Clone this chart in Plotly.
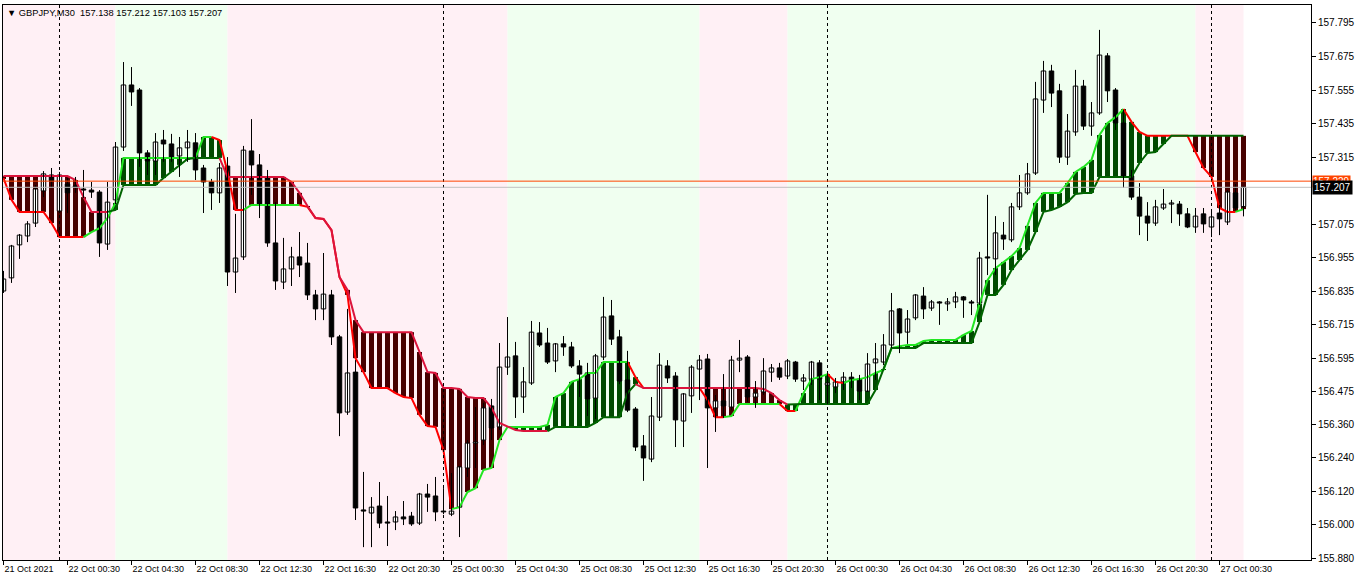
import plotly.graph_objects as go

symbol_caption = "\u25bc GBPJPY,M30  157.138 157.212 157.103 157.207"

open_prices = [
    156.836, 156.883, 157.001, 157.033, 157.079, 157.194, 157.251, 157.122, 157.219, 157.212,
    157.201, 157.197, 157.190, 157.004, 157.162, 157.351, 157.573, 157.555, 157.330, 157.301,
    157.376, 157.362, 157.319, 157.348, 157.366, 157.276, 157.226, 157.187, 157.283, 156.904,
    156.958, 157.337, 157.287, 157.244, 157.008, 156.868, 156.915, 156.958, 156.936, 156.822,
    156.772, 156.822, 156.672, 156.403, 156.546, 156.053, 156.042, 156.067, 156.010, 156.010,
    156.028, 156.031, 156.006, 156.110, 156.103, 156.049, 156.038, 156.063, 156.203, 156.292,
    156.303, 156.425, 156.350, 156.564, 156.604, 156.457, 156.507, 156.686, 156.650, 156.586,
    156.647, 156.636, 156.568, 156.543, 156.453, 156.600, 156.747, 156.672, 156.518, 156.414,
    156.282, 156.235, 156.385, 156.568, 156.532, 156.371, 156.461, 156.557, 156.593, 156.418,
    156.443, 156.421, 156.589, 156.600, 156.457, 156.475, 156.546, 156.561, 156.532, 156.582,
    156.514, 156.521, 156.579, 156.500, 156.493, 156.511, 156.528, 156.521, 156.478, 156.579,
    156.582, 156.643, 156.772, 156.689, 156.740, 156.818, 156.775, 156.797, 156.790, 156.797,
    156.815, 156.797, 156.793, 156.958, 156.951, 157.036, 157.019, 157.137, 157.187, 157.258,
    157.519, 157.623, 157.552, 157.315, 157.405, 157.569, 157.426, 157.473, 157.677, 157.555,
    157.437, 157.247, 157.172, 157.104, 157.079, 157.133, 157.147, 157.147, 157.112, 157.065,
    157.112, 157.065, 157.115, 157.083, 157.187, 157.138,
]
high_prices = [
    156.908, 157.001, 157.040, 157.086, 157.215, 157.265, 157.276, 157.262, 157.240, 157.244,
    157.269, 157.226, 157.197, 157.226, 157.369, 157.655, 157.637, 157.562, 157.340, 157.401,
    157.412, 157.398, 157.387, 157.412, 157.401, 157.287, 157.237, 157.294, 157.315, 157.112,
    157.355, 157.451, 157.326, 157.269, 157.154, 157.026, 156.994, 157.047, 157.008, 156.840,
    156.972, 156.840, 156.679, 156.772, 156.589, 156.189, 156.099, 156.153, 156.103, 156.049,
    156.085, 156.046, 156.114, 156.146, 156.171, 156.131, 156.185, 156.210, 156.303, 156.421,
    156.436, 156.450, 156.650, 156.743, 156.654, 156.564, 156.729, 156.725, 156.704, 156.650,
    156.675, 156.654, 156.589, 156.579, 156.611, 156.815, 156.804, 156.697, 156.622, 156.421,
    156.321, 156.457, 156.614, 156.589, 156.546, 156.471, 156.571, 156.607, 156.611, 156.464,
    156.539, 156.604, 156.661, 156.607, 156.514, 156.596, 156.575, 156.579, 156.593, 156.586,
    156.539, 156.586, 156.589, 156.543, 156.525, 156.546, 156.546, 156.536, 156.614, 156.650,
    156.682, 156.829, 156.775, 156.768, 156.825, 156.850, 156.804, 156.800, 156.811, 156.833,
    156.818, 156.804, 156.976, 157.180, 157.104, 157.083, 157.151, 157.251, 157.294, 157.584,
    157.659, 157.645, 157.577, 157.469, 157.627, 157.591, 157.512, 157.770, 157.687, 157.562,
    157.484, 157.269, 157.222, 157.154, 157.162, 157.201, 157.162, 157.158, 157.133, 157.133,
    157.133, 157.122, 157.144, 157.197, 157.219, 157.212,
]
low_prices = [
    156.829, 156.865, 156.951, 157.011, 157.065, 157.172, 157.205, 157.115, 157.115, 157.187,
    157.169, 157.169, 156.958, 156.983, 157.147, 157.337, 157.498, 157.280, 157.251, 157.251,
    157.298, 157.298, 157.244, 157.298, 157.233, 157.115, 157.126, 157.151, 156.854, 156.829,
    156.947, 157.180, 157.097, 156.994, 156.840, 156.843, 156.854, 156.886, 156.804, 156.732,
    156.732, 156.643, 156.317, 156.393, 156.017, 155.920, 155.920, 155.988, 155.924, 155.981,
    155.999, 155.996, 155.999, 156.046, 156.013, 156.038, 156.031, 155.956, 156.171, 156.203,
    156.285, 156.303, 156.339, 156.536, 156.382, 156.400, 156.500, 156.636, 156.575, 156.546,
    156.604, 156.561, 156.457, 156.389, 156.378, 156.589, 156.643, 156.503, 156.403, 156.264,
    156.157, 156.224, 156.371, 156.507, 156.278, 156.278, 156.400, 156.446, 156.203, 156.332,
    156.382, 156.410, 156.546, 156.439, 156.418, 156.464, 156.511, 156.518, 156.521, 156.511,
    156.482, 156.500, 156.446, 156.439, 156.471, 156.482, 156.489, 156.446, 156.475, 156.518,
    156.571, 156.632, 156.614, 156.647, 156.732, 156.736, 156.765, 156.715, 156.765, 156.775,
    156.740, 156.750, 156.786, 156.893, 156.893, 156.983, 157.011, 157.126, 157.180, 157.251,
    157.473, 157.494, 157.294, 157.287, 157.391, 157.412, 157.391, 157.466, 157.512, 157.412,
    157.205, 157.162, 157.036, 157.015, 157.069, 157.126, 157.079, 157.069, 157.061, 157.044,
    157.044, 157.029, 157.036, 157.072, 157.126, 157.103,
]
close_prices = [
    156.879, 156.997, 157.036, 157.076, 157.201, 157.255, 157.230, 157.251, 157.187, 157.208,
    157.197, 157.190, 157.008, 157.154, 157.351, 157.573, 157.548, 157.330, 157.301, 157.369,
    157.362, 157.315, 157.348, 157.369, 157.269, 157.226, 157.187, 157.276, 156.904, 156.954,
    157.340, 157.287, 157.144, 157.008, 156.872, 156.915, 156.958, 156.929, 156.822, 156.772,
    156.825, 156.672, 156.400, 156.543, 156.060, 156.049, 156.063, 156.006, 156.006, 156.028,
    156.021, 156.003, 156.110, 156.099, 156.046, 156.046, 156.049, 156.207, 156.292, 156.296,
    156.418, 156.346, 156.564, 156.600, 156.457, 156.511, 156.689, 156.643, 156.582, 156.647,
    156.636, 156.568, 156.539, 156.450, 156.604, 156.743, 156.664, 156.514, 156.410, 156.278,
    156.239, 156.389, 156.571, 156.525, 156.375, 156.468, 156.564, 156.589, 156.418, 156.443,
    156.425, 156.589, 156.596, 156.457, 156.471, 156.550, 156.561, 156.528, 156.586, 156.521,
    156.525, 156.582, 156.521, 156.507, 156.511, 156.528, 156.518, 156.478, 156.575, 156.593,
    156.643, 156.765, 156.686, 156.736, 156.822, 156.772, 156.797, 156.793, 156.797, 156.815,
    156.804, 156.793, 156.954, 156.954, 157.044, 157.022, 157.137, 157.187, 157.255, 157.523,
    157.623, 157.544, 157.315, 157.408, 157.569, 157.426, 157.473, 157.680, 157.552, 157.437,
    157.247, 157.172, 157.104, 157.079, 157.137, 157.147, 157.151, 157.112, 157.065, 157.104,
    157.076, 157.101, 157.094, 157.190, 157.133, 157.207,
]

# indicator: fast (bright) line and slow (dark) line
fast_line = [
    157.240, 157.162, 157.119, 157.119, 157.119, 157.119, 157.079, 157.029, 157.029, 157.029,
    157.029, 157.047, 157.061, 157.097, 157.151, 157.312, 157.312, 157.312, 157.312, 157.312,
    157.312, 157.312, 157.312, 157.312, 157.312, 157.387, 157.387, 157.376, 157.262, 157.126,
    157.126, 157.144, 157.144, 157.144, 157.144, 157.144, 157.144, 157.144, 157.137, 157.097,
    157.094, 157.054, 156.886, 156.822, 156.596, 156.546, 156.489, 156.489, 156.489, 156.471,
    156.457, 156.453, 156.393, 156.353, 156.350, 156.267, 156.056, 156.063, 156.117, 156.131,
    156.196, 156.203, 156.303, 156.350, 156.350, 156.350, 156.350, 156.350, 156.357, 156.457,
    156.471, 156.511, 156.521, 156.543, 156.543, 156.582, 156.582, 156.582, 156.582, 156.528,
    156.489, 156.489, 156.489, 156.489, 156.489, 156.489, 156.489, 156.489, 156.446, 156.385,
    156.385, 156.389, 156.432, 156.432, 156.432, 156.432, 156.432, 156.432, 156.407, 156.407,
    156.471, 156.521, 156.528, 156.539, 156.511, 156.507, 156.518, 156.521, 156.528, 156.543,
    156.554, 156.632, 156.639, 156.643, 156.643, 156.657, 156.661, 156.661, 156.661, 156.661,
    156.679, 156.693, 156.790, 156.875, 156.918, 156.940, 156.961, 156.990, 157.069, 157.151,
    157.187, 157.187, 157.187, 157.222, 157.262, 157.280, 157.305, 157.394, 157.437, 157.458,
    157.487, 157.441, 157.405, 157.391, 157.391, 157.391, 157.391, 157.391, 157.391, 157.333,
    157.276, 157.244, 157.133, 157.119, 157.119, 157.129,
]
slow_line = [
    157.247, 157.247, 157.247, 157.247, 157.247, 157.247, 157.247, 157.247, 157.247, 157.233,
    157.172, 157.119, 157.119, 157.119, 157.126, 157.215, 157.215, 157.215, 157.215, 157.215,
    157.240, 157.262, 157.287, 157.308, 157.312, 157.312, 157.312, 157.312, 157.244, 157.244,
    157.244, 157.244, 157.244, 157.244, 157.244, 157.244, 157.226, 157.187, 157.140, 157.097,
    157.094, 157.054, 156.886, 156.840, 156.732, 156.689, 156.689, 156.689, 156.689, 156.689,
    156.689, 156.689, 156.618, 156.546, 156.543, 156.489, 156.489, 156.486, 156.457, 156.453,
    156.453, 156.418, 156.364, 156.350, 156.339, 156.335, 156.335, 156.335, 156.335, 156.350,
    156.350, 156.350, 156.350, 156.350, 156.364, 156.385, 156.385, 156.385, 156.471, 156.503,
    156.489, 156.489, 156.489, 156.489, 156.489, 156.489, 156.489, 156.489, 156.489, 156.489,
    156.489, 156.489, 156.489, 156.489, 156.489, 156.486, 156.471, 156.446, 156.430, 156.432,
    156.432, 156.432, 156.432, 156.432, 156.432, 156.432, 156.432, 156.432, 156.432, 156.482,
    156.557, 156.632, 156.632, 156.632, 156.632, 156.650, 156.650, 156.650, 156.650, 156.650,
    156.650, 156.650, 156.725, 156.822, 156.822, 156.858, 156.911, 156.947, 156.983, 157.047,
    157.119, 157.126, 157.137, 157.154, 157.183, 157.187, 157.187, 157.244, 157.244, 157.244,
    157.244, 157.244, 157.294, 157.330, 157.333, 157.362, 157.391, 157.391, 157.391, 157.391,
    157.391, 157.391, 157.391, 157.391, 157.391, 157.391,
]

# trend zones (start bar, end bar, trend)
zones = [(0, 14, "bear"), (14, 28, "bull"), (28, 63, "bear"), (63, 87, "bull"),
         (87, 98, "bear"), (98, 149, "bull"), (149, 155, "bear")]

x_tick_bars = [0, 8, 16, 24, 32, 40, 48, 56, 64, 72, 80, 88, 96, 104, 112, 120, 128, 136, 144, 152]
x_tick_labels = ["21 Oct 2021", "22 Oct 00:30", "22 Oct 04:30", "22 Oct 08:30", "22 Oct 12:30",
                 "22 Oct 16:30", "22 Oct 20:30", "25 Oct 00:30", "25 Oct 04:30", "25 Oct 08:30",
                 "25 Oct 12:30", "25 Oct 16:30", "25 Oct 20:30", "26 Oct 00:30", "26 Oct 04:30",
                 "26 Oct 08:30", "26 Oct 12:30", "26 Oct 16:30", "26 Oct 20:30", "27 Oct 00:30"]
y_tick_values = [157.795, 157.675, 157.555, 157.435, 157.315, 157.075, 156.955, 156.835,
                 156.715, 156.595, 156.475, 156.360, 156.240, 156.120, 156.000, 155.880]
day_separator_bars = [7, 55, 103, 151]
ask_price = 157.229
bid_price = 157.207

X_MIN, X_MAX = -0.0625, 163.4375
Y_MIN, Y_MAX = 155.874, 157.859
FONT = "Liberation Sans, Arial, sans-serif"

n = min(len(open_prices), len(high_prices), len(low_prices), len(close_prices),
        len(fast_line), len(slow_line))
bars = list(range(n))

ZONE_BG = {"bear": "#FFF0F5", "bull": "#F0FFF0"}
STRIPE = {"bear": "#480000", "bull": "#004A00"}

fig = go.Figure()

for a, b, kind in zones:
    fig.add_shape(type="rect", xref="x", yref="paper", x0=(a if a > 0 else X_MIN), x1=b,
                  y0=0, y1=1, fillcolor=ZONE_BG[kind], line_width=0, layer="below")


def zone_of(i):
    for a, b, kind in zones:
        if a <= i < b:
            return kind
    return zones[-1][2]


# cloud stripes
fig.add_trace(go.Bar(
    x=bars,
    base=[min(fast_line[i], slow_line[i]) for i in bars],
    y=[abs(fast_line[i] - slow_line[i]) for i in bars],
    width=0.62,
    marker=dict(color=[STRIPE[zone_of(i)] for i in bars], line=dict(width=0)),
    hoverinfo="skip", showlegend=False,
))


def slope_colors(vals, up, down, init):
    cols = [init]
    state = init
    for i in range(1, len(vals)):
        if vals[i] > vals[i - 1] + 1e-9:
            state = up
        elif vals[i] < vals[i - 1] - 1e-9:
            state = down
        cols.append(state)
    return cols


def add_colored_line(vals, cols, width):
    start = 1
    for i in range(2, n + 1):
        if i == n or cols[i] != cols[start]:
            xs = list(range(start - 1, i))
            fig.add_trace(go.Scatter(
                x=xs, y=vals[start - 1:i], mode="lines",
                line=dict(color=cols[start], width=width),
                hoverinfo="skip", showlegend=False))
            start = i


add_colored_line(fast_line[:n], slope_colors(fast_line[:n], "#22E622", "#FF0000", "#FF0000"), 2)
add_colored_line(slow_line[:n], slope_colors(slow_line[:n], "#006400", "#DC143C", "#DC143C"), 2)

# candles: wicks then bodies
wx, wy = [], []
for i in bars:
    wx += [i, i, None]
    wy += [low_prices[i], high_prices[i], None]
fig.add_trace(go.Scatter(x=wx, y=wy, mode="lines", line=dict(color="black", width=1),
                         hoverinfo="skip", showlegend=False))

fig.add_trace(go.Bar(
    x=bars,
    base=[min(open_prices[i], close_prices[i]) for i in bars],
    y=[max(abs(close_prices[i] - open_prices[i]), 0.0004) for i in bars],
    width=0.56,
    marker=dict(color=["white" if close_prices[i] >= open_prices[i] else "black" for i in bars],
                line=dict(color="black", width=1)),
    hoverinfo="skip", showlegend=False,
))

for d in day_separator_bars:
    fig.add_shape(type="line", xref="x", yref="paper", x0=d, x1=d, y0=0, y1=1,
                  line=dict(color="black", width=1, dash="3px,3px"))

fig.add_shape(type="line", xref="paper", yref="y", x0=0, x1=1, y0=ask_price, y1=ask_price,
              line=dict(color="#FF4500", width=1))
fig.add_shape(type="line", xref="paper", yref="y", x0=0, x1=1, y0=bid_price, y1=bid_price,
              line=dict(color="#C0C0C0", width=1))

fig.add_annotation(xref="paper", yref="y", x=1, y=ask_price, xanchor="left", yanchor="middle",
                   xshift=1, text=f"{ask_price:.3f}", showarrow=False, bgcolor="#FF4500",
                   font=dict(family=FONT, size=10, color="white"), borderpad=0)
fig.add_annotation(xref="paper", yref="y", x=1, y=bid_price, xanchor="left", yanchor="middle",
                   xshift=1, text=f"{bid_price:.3f}", showarrow=False, bgcolor="black",
                   font=dict(family=FONT, size=10, color="white"), borderpad=1)

fig.add_annotation(xref="paper", yref="paper", x=0, y=1, xanchor="left", yanchor="top",
                   xshift=2, yshift=-1, text=symbol_caption, showarrow=False,
                   font=dict(family=FONT, size=9.3, color="black"))

fig.update_layout(
    width=1362, height=581,
    margin=dict(l=3, r=51, t=5, b=21, autoexpand=False),
    paper_bgcolor="white", plot_bgcolor="white",
    barmode="overlay", showlegend=False,
    font=dict(family=FONT, size=10, color="black"),
    xaxis=dict(range=[X_MIN, X_MAX], tickvals=x_tick_bars, ticktext=x_tick_labels,
               ticks="outside", ticklen=4, tickcolor="black", showgrid=False, zeroline=False,
               showline=True, mirror=True, linecolor="black", linewidth=1, tickangle=0,
               automargin=False,
               ticklabelposition="outside right", tickfont=dict(family=FONT, size=9)),
    yaxis=dict(range=[Y_MIN, Y_MAX], side="right", tickvals=y_tick_values,
               ticktext=[f"{v:.3f}" for v in y_tick_values],
               ticks="outside", ticklen=4, tickcolor="black", showgrid=False, zeroline=False,
               showline=True, mirror=True, linecolor="black", linewidth=1, automargin=False,
               tickfont=dict(family=FONT, size=10)),
)

fig.write_html("out.html", config={"displayModeBar": False},
               post_script="document.body.style.margin='0px';document.body.style.overflow='hidden';")
